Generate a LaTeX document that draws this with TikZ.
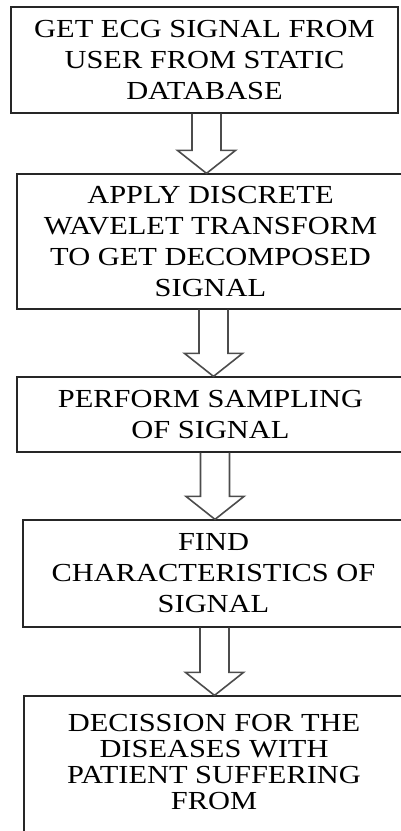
\documentclass[tikz,border=0pt]{standalone}
\usepackage{fontspec}
\setmainfont{Liberation Serif}[FakeStretch=1.17]
\usepackage{tikz}
\usetikzlibrary{calc}
\tikzset{stepbox/.style={draw=black!85, line width=1.2pt, align=center, inner sep=0pt,
                         minimum width=387pt, font=\fontsize{26}{31}\selectfont},
         hollow/.style={draw=black!70, line width=1.6pt, line join=miter}
}
\newcommand{\fatarrow}[3]{%
    \draw[hollow] let \p1=(#1.south), \p2=(#2.north) in
        (#3-14.5,\y1) -- (#3-14.5,\y2+23) -- (#3-29,\y2+23) -- (#3,\y2)
        -- (#3+29,\y2+23) -- (#3+14.5,\y2+23) -- (#3+14.5,\y1);}

\begin{document}
\begin{tikzpicture}[x=1pt,y=1pt]
    \clip (0,0) rectangle (401,831);
    \node[stepbox, minimum height=106pt] (A) at (204.5,771)   {GET ECG SIGNAL FROM\\USER FROM STATIC\\DATABASE};
    \node[stepbox, minimum height=135pt] (B) at (210.5,589.5) {APPLY DISCRETE\\WAVELET TRANSFORM\\TO GET DECOMPOSED\\SIGNAL};
    \node[stepbox, minimum height=75pt]  (C) at (210.5,416.5) {PERFORM SAMPLING\\OF SIGNAL};
    \node[stepbox, minimum height=107pt, minimum width=381pt] (D) at (213.5,257.5) {FIND\\CHARACTERISTICS OF\\SIGNAL};
    \node[stepbox, minimum height=144pt, minimum width=380pt, text depth=12pt,
          font=\fontsize{26}{26}\selectfont] (E) at (214,63) {DECISSION FOR THE\\DISEASES WITH\\PATIENT SUFFERING\\FROM};

    \fatarrow{A}{B}{206.5}
    \fatarrow{B}{C}{213.5}
    \fatarrow{C}{D}{215}
    \fatarrow{D}{E}{214.5}
\end{tikzpicture}
\end{document}
